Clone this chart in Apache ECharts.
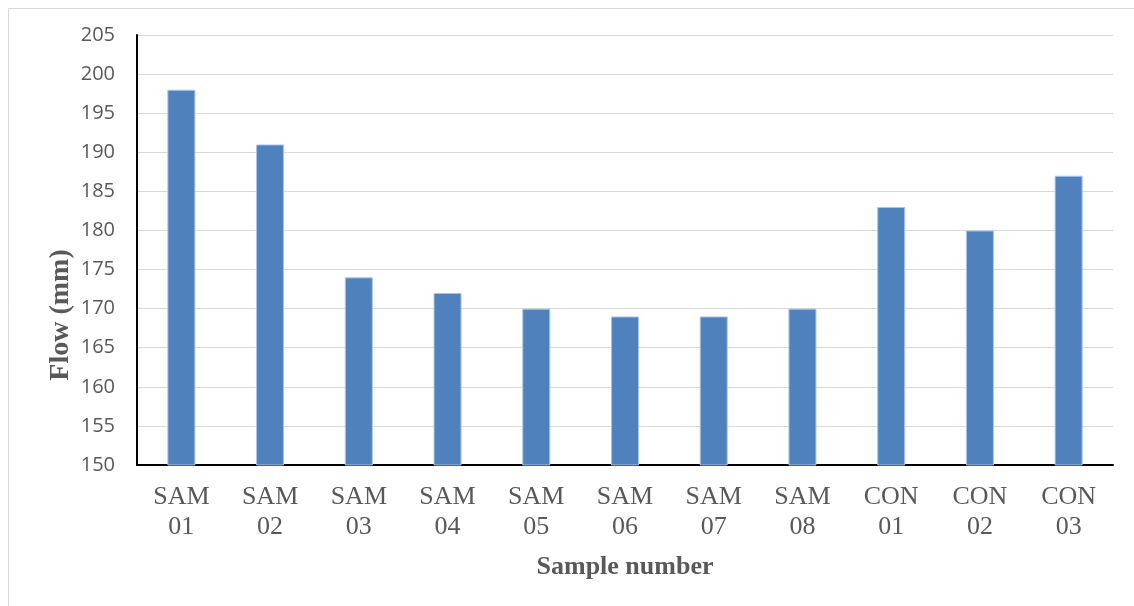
<!DOCTYPE html>
<html>
<head>
<meta charset="utf-8">
<script src="https://cdn.jsdelivr.net/npm/echarts@6/dist/echarts.min.js"></script>
<style>html,body{margin:0;padding:0;background:#fff}#c{width:1134px;height:606px}</style>
</head>
<body>
<div id="c"></div>
<script>
const categories = ['SAM\n01','SAM\n02','SAM\n03','SAM\n04','SAM\n05','SAM\n06','SAM\n07','SAM\n08','CON\n01','CON\n02','CON\n03'];
const flowValues = [198, 191, 174, 172, 170, 169, 169, 170, 183, 180, 187];
const yMin = 150, yMax = 205, yStep = 5;

const chart = echarts.init(document.getElementById('c'), null, {renderer:'canvas'});
chart.setOption({
  animation: false,
  backgroundColor: '#fff',
  graphic: [{
    type: 'rect', left: 6, top: 6, silent: true,
    shape: {width: 1200, height: 700},
    style: {fill: 'none', stroke: '#D9D9D9', lineWidth: 1}
  }],
  grid: {left: 137, right: 21, top: 35, bottom: 141},
  xAxis: {
    type: 'category',
    data: categories,
    name: 'Sample number',
    nameLocation: 'middle',
    nameGap: 89,
    nameMoveOverlap: false,
    nameTextStyle: {fontFamily: 'Liberation Serif', fontWeight: 'bold', fontSize: 26, color: '#595959'},
    axisLine: {lineStyle: {color: '#000', width: 2}},
    axisTick: {show: false},
    axisLabel: {fontFamily: 'Liberation Serif', fontSize: 26, color: '#595959', lineHeight: 30, margin: 17, interval: 0}
  },
  yAxis: {
    type: 'value',
    min: yMin, max: yMax, interval: yStep,
    name: 'Flow (mm)',
    nameLocation: 'middle',
    nameGap: 62,
    nameMoveOverlap: false,
    nameTextStyle: {fontFamily: 'Liberation Serif', fontWeight: 'bold', fontSize: 28, color: '#595959', padding: [0, 130, 0, 0]},
    axisLine: {show: true, lineStyle: {color: '#000', width: 2}},
    axisTick: {show: false},
    axisLabel: {fontFamily: 'Open Sans', fontSize: 20, color: '#595959', margin: 22},
    splitLine: {lineStyle: {color: '#D9D9D9', width: 1}}
  },
  series: [{
    type: 'bar',
    data: flowValues,
    barWidth: 28,
    itemStyle: {color: '#4F81BD', borderColor: '#A9C4E6', borderWidth: 1}
  }]
});
</script>
</body>
</html>
